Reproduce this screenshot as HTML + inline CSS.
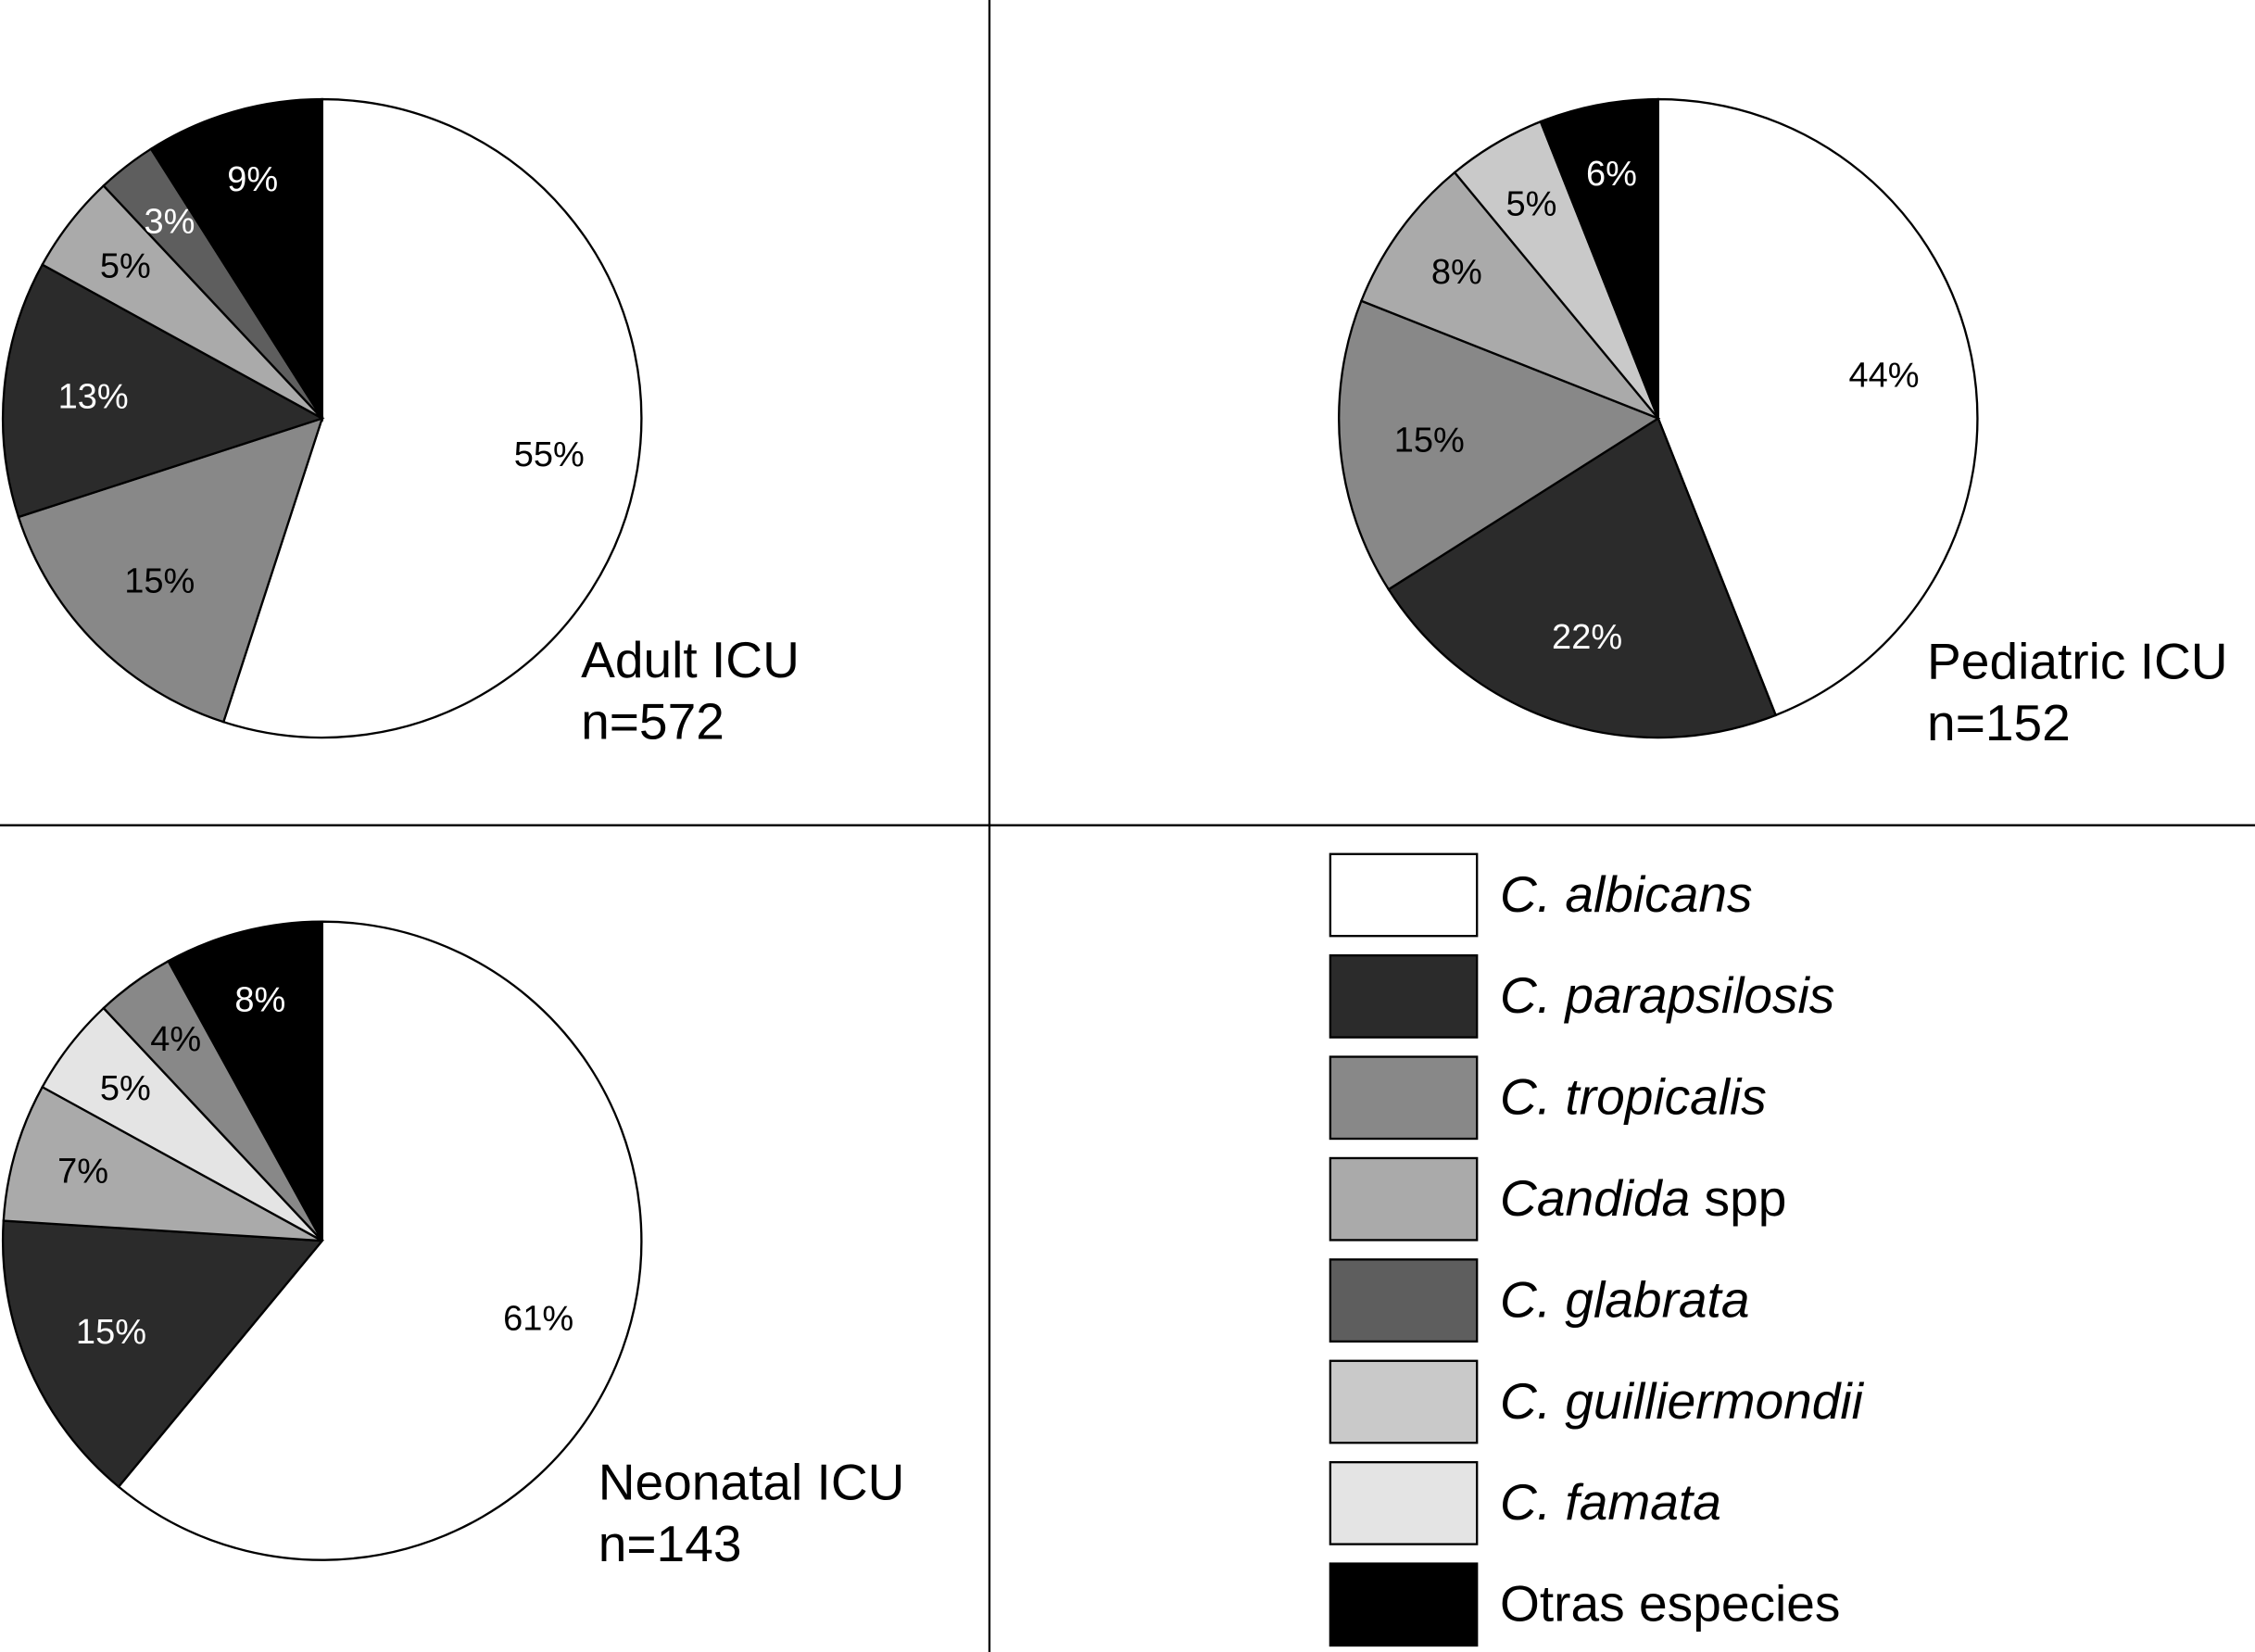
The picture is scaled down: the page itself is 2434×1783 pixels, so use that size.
<!DOCTYPE html>
<html><head><meta charset="utf-8"><style>
html,body{margin:0;padding:0;background:#fff}
svg{display:block}
text{font-family:"Liberation Sans",Arial,sans-serif}
</style></head><body>
<svg id="chart" width="2434" height="1783" viewBox="0 0 1568 1149" preserveAspectRatio="none" xmlns="http://www.w3.org/2000/svg">
<rect width="1568" height="1149" fill="#fff"/>
<line x1="688" y1="0" x2="688" y2="1149" stroke="#000" stroke-width="1.5"/>
<line x1="0" y1="574" x2="1568" y2="574" stroke="#000" stroke-width="1.5"/>
<g id="pies"></g>
<g id="legend"></g>
</svg>
<script>
const speciesNames = ["C. albicans","C. parapsilosis","C. tropicalis","Candida spp","C. glabrata","C. guilliermondii","C. famata","Otras especies"];
const speciesColors = ["#ffffff","#2b2b2b","#888888","#aaaaaa","#5e5e5e","#c9c9c9","#e4e4e4","#000000"];
const adultSpecies = [0,2,1,3,4,7];
const adultValues = [55,15,13,5,3,9];
const pediatricSpecies = [0,1,2,3,5,7];
const pediatricValues = [44,22,15,8,5,6];
const neonatalSpecies = [0,1,3,6,2,7];
const neonatalValues = [61,15,7,5,4,8];
const panelTitles = ["Adult ICU","Pediatric ICU","Neonatal ICU"];
const panelCounts = ["n=572","n=152","n=143"];

const NS="http://www.w3.org/2000/svg";
const pies=document.getElementById('pies');
function mk(tag,attrs,parent){const e=document.createElementNS(NS,tag);for(const k in attrs)e.setAttribute(k,attrs[k]);parent.appendChild(e);return e;}
function pt(cx,cy,r,frac){const a=frac*2*Math.PI;return [cx+r*Math.sin(a),cy-r*Math.cos(a)];}
const darkIdx=[1,4,7];
function drawPie(cx,cy,r,sp,vals,title,count,tx,ty,key){
  const g=mk('g',{},pies);
  
  
  const total=vals.reduce((a,b)=>a+b,0);
  let acc=0;
  vals.forEach((v,i)=>{
    const s=acc/total, e=(acc+v)/total; acc+=v;
    const [x1,y1]=pt(cx,cy,r,s),[x2,y2]=pt(cx,cy,r,e);
    const large=(e-s)>0.5?1:0;
    const p=mk('path',{d:`M${cx},${cy}L${x1},${y1}A${r},${r} 0 ${large} 1 ${x2},${y2}Z`,fill:speciesColors[sp[i]],stroke:'#000','stroke-width':1.5},g);
    
    
    const m=(s+e)/2, lr=(e-s)<0.1?0.78:0.72;
    const [lx,ly]=pt(cx,cy,r*lr,m);
    const t=mk('text',{x:lx,y:ly+8,'text-anchor':'middle','font-size':24.5,fill:darkIdx.includes(sp[i])?'#fff':'#000'},g);
    t.textContent=v+'%';
    
    
  });
  const t1=mk('text',{x:tx,y:ty,'font-size':35.5},g);t1.textContent=title;
  
  
  const t2=mk('text',{x:tx,y:ty+43,'font-size':35.5},g);t2.textContent=count;
  
  
}
drawPie(224,291,222,adultSpecies,adultValues,panelTitles[0],panelCounts[0],404,471,'adult');
drawPie(1153,291,222,pediatricSpecies,pediatricValues,panelTitles[1],panelCounts[1],1340,472,'pediatric');
drawPie(224,863,222,neonatalSpecies,neonatalValues,panelTitles[2],panelCounts[2],416,1043,'neonatal');

const lg=document.getElementById('legend');


speciesNames.forEach((n,i)=>{
  const y=594+i*70.5;
  const r=mk('rect',{x:925,y:y,width:102,height:57,fill:speciesColors[i],stroke:'#000','stroke-width':1.5},lg);
  
  
  const t=mk('text',{x:1043,y:y+40,'font-size':35.5},lg);
  
  
  if(n==="Candida spp"){const a=mk('tspan',{'font-style':'italic'},t);a.textContent='Candida';const b=mk('tspan',{},t);b.textContent=' spp';}
  else if(n==="Otras especies"){t.textContent=n;}
  else{t.setAttribute('font-style','italic');t.textContent=n;}
});
</script>
</body></html>
